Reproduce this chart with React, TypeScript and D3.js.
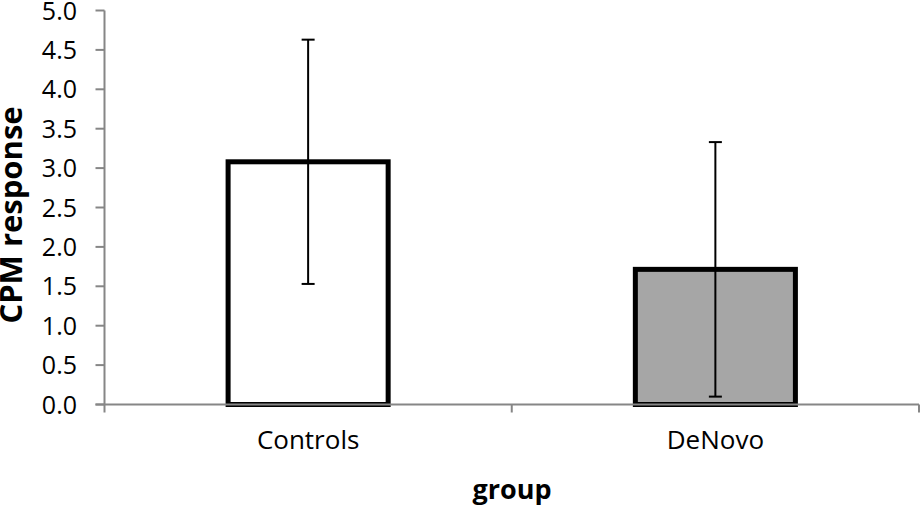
import React from "react";
import * as d3 from "d3";

const categories = ["Controls", "DeNovo"];
const means = [3.08, 1.715];
const errors = [1.55, 1.615];
const fills = ["#ffffff", "#a6a6a6"];
const yTicks = [0, 0.5, 1, 1.5, 2, 2.5, 3, 3.5, 4, 4.5, 5];

const W = 921;
const H = 507;
const left = 104.5;
const right = 919;
const top = 10.5;
const bottom = 404.5;
const FONT = "'Open Sans', Lato, sans-serif";

export default function App() {
  const y = d3.scaleLinear().domain([0, 5]).range([bottom, top]);
  const x = d3
    .scaleBand<string>()
    .domain(categories)
    .range([left, right])
    .paddingInner(0.607)
    .paddingOuter(0.3035);
  const step = x.step();
  const axisColor = "#868686";

  return (
    <svg
      width={W}
      height={H}
      style={{ position: "absolute", left: 0, top: 0, display: "block", background: "#fff" }}
    >
      {/* bars */}
      {categories.map((c, i) => {
        const x0 = x(c)!;
        const bw = x.bandwidth();
        return (
          <rect
            key={c}
            x={x0}
            y={y(means[i])}
            width={bw}
            height={y(0) - y(means[i])}
            fill={fills[i]}
            stroke="#000"
            strokeWidth={5}
          />
        );
      })}
      {/* y axis */}
      <line x1={left} x2={left} y1={top} y2={bottom} stroke={axisColor} strokeWidth={2} />
      {yTicks.map((t) => (
        <g key={t}>
          <line x1={left - 9} x2={left} y1={y(t)} y2={y(t)} stroke={axisColor} strokeWidth={2} />
          <text
            x={77}
            y={y(t)}
            dy="0.36em"
            textAnchor="end"
            fontFamily={FONT}
            fontSize={25}
            fill="#000"
          >
            {t.toFixed(1)}
          </text>
        </g>
      ))}
      {/* x axis */}
      <line x1={left - 9} x2={right} y1={bottom} y2={bottom} stroke={axisColor} strokeWidth={2} />
      {[0, 1, 2].map((k) => (
        <line
          key={k}
          x1={left + k * step}
          x2={left + k * step}
          y1={bottom}
          y2={bottom + 8}
          stroke={axisColor}
          strokeWidth={2}
        />
      ))}
      {categories.map((c) => (
        <text
          key={c}
          x={x(c)! + x.bandwidth() / 2}
          y={449}
          textAnchor="middle"
          fontFamily={FONT}
          fontSize={26}
          fill="#000"
        >
          {c}
        </text>
      ))}
      {/* error bars */}
      {categories.map((c, i) => {
        const cx = x(c)! + x.bandwidth() / 2;
        const hi = y(means[i] + errors[i]);
        const lo = y(means[i] - errors[i]);
        return (
          <g key={c} stroke="#000" strokeWidth={2}>
            <line x1={cx} x2={cx} y1={hi} y2={lo} />
            <line x1={cx - 6.5} x2={cx + 6.5} y1={hi} y2={hi} />
            <line x1={cx - 6.5} x2={cx + 6.5} y1={lo} y2={lo} />
          </g>
        );
      })}
      {/* axis titles */}
      <text
        transform={`translate(22, 215) rotate(-90)`}
        textAnchor="middle"
        fontFamily={FONT}
        fontWeight="bold"
        fontSize={31}
        fill="#000"
      >
        CPM response
      </text>
      <text
        x={512}
        y={499}
        textAnchor="middle"
        fontFamily={FONT}
        fontWeight="bold"
        fontSize={27}
        fill="#000"
      >
        group
      </text>
    </svg>
  );
}
